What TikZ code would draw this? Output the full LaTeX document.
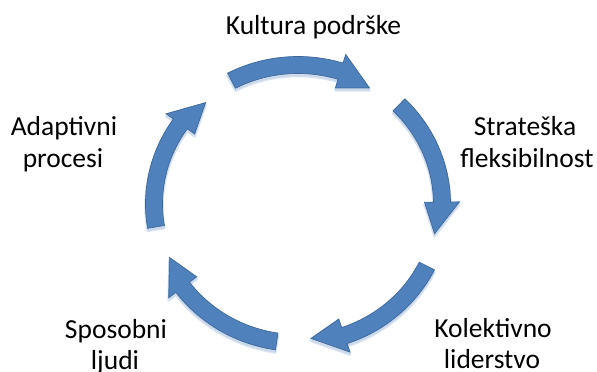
\documentclass[tikz,border=0pt]{standalone}
\usepackage{fontspec}
\setmainfont{Carlito}
\definecolor{arrowfill}{RGB}{79,129,189}
\definecolor{arrowline}{RGB}{62,103,153}
\definecolor{arrowglow}{RGB}{190,208,232}
\newcommand\cyclepath{%
  ({\cx+(\rx+\aw)*cos(\ta)},{\cy+(\ry+\aw)*sin(\ta)})
  arc[start angle=\ta, end angle=\ba, x radius=\rox pt, y radius=\roy pt]
  -- ({\cx+(\rx+\ah)*cos(\ba)},{\cy+(\ry+\ah)*sin(\ba)})
  -- ({\cx+(\rx+\at)*cos(\pa)},{\cy+(\ry+\at)*sin(\pa)})
  -- ({\cx+(\rx-\ah)*cos(\ba)},{\cy+(\ry-\ah)*sin(\ba)})
  -- ({\cx+(\rx-\aw)*cos(\ba)},{\cy+(\ry-\aw)*sin(\ba)})
  arc[start angle=\ba, end angle=\ta, x radius=\rix pt, y radius=\riy pt]
  -- cycle}
\begin{document}
\begin{tikzpicture}[x=1pt,y=1pt,
  lbl/.style={inner sep=0pt, anchor=base, font=\fontsize{27.5}{32}\selectfont, text=black},
  arrowbody/.style={fill=arrowfill, draw=arrowline, line width=0.7pt, line join=miter},
  arrowshadow/.style={fill=arrowglow, draw=arrowglow, line width=2.5pt, opacity=0.6, line join=round}]
\useasboundingbox (0,0) rectangle (597,372);
\def\cx{298}\def\cy{168}\def\rx{144}\def\ry{139}
\def\aw{8.5}\def\ah{17.5}\def\at{-4}
\pgfmathsetmacro\rox{\rx+\aw}\pgfmathsetmacro\roy{\ry+\aw}
\pgfmathsetmacro\rix{\rx-\aw}\pgfmathsetmacro\riy{\ry-\aw}
\foreach \t in {117.5,45.5,-26.5,-98.5,-170.5}{
  \pgfmathsetmacro\ta{\t}
  \pgfmathsetmacro\ba{\t-44.7}
  \pgfmathsetmacro\pa{\t-58.2}
  \begin{scope}[yshift=-2.5pt]
    \path[arrowshadow] \cyclepath;
  \end{scope}
  \path[arrowbody] \cyclepath;
}
\node[lbl] (kultura) at (313.5,337.5) {Kultura podrške};
\node[lbl] (strat1) at (525,236) {Strateška};
\node[lbl] (strat2) at (527,204) {fleksibilnost};
\node[lbl] (kol1) at (493,34) {Kolektivno};
\node[lbl] (kol2) at (492,3) {liderstvo};
\node[lbl] (spos1) at (116,33) {Sposobni};
\node[lbl] (spos2) at (115,2) {ljudi};
\node[lbl] (adap1) at (64,236) {Adaptivni};
\node[lbl] (adap2) at (63,204) {procesi};
\end{tikzpicture}
\end{document}
